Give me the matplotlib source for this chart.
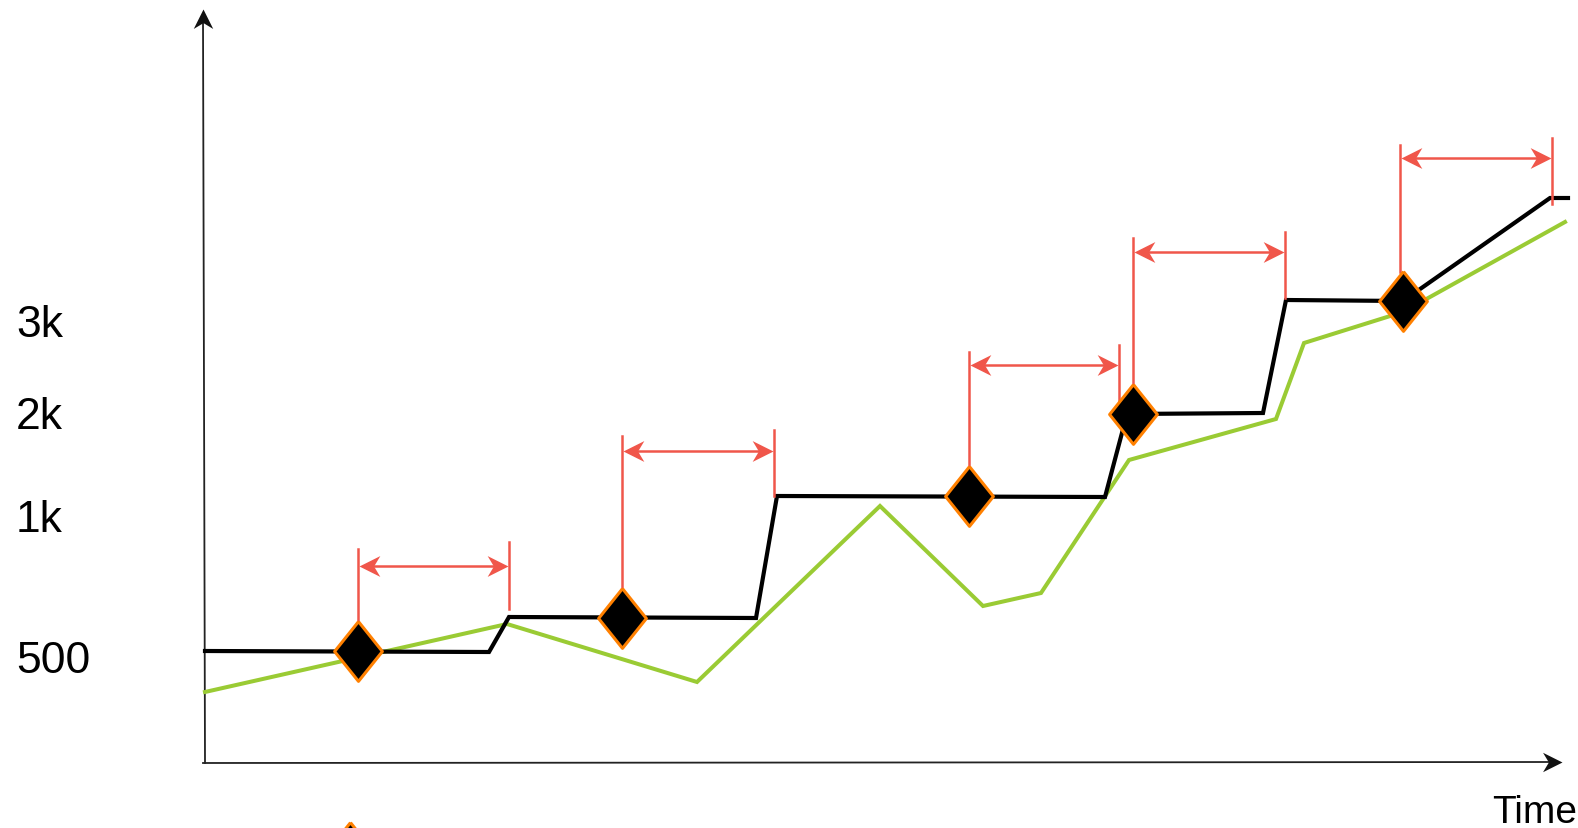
import matplotlib.pyplot as plt

plt.rcParams['font.family'] = ['Liberation Sans', 'DejaVu Sans']

# 坐标按画面像素读取（x 向右，y 向下）
black_x = [205, 489, 509, 756, 777, 1105, 1127, 1263, 1286, 1403, 1550, 1568]
black_y = [652, 653, 618, 619, 497, 498, 415, 414, 301, 302, 199, 199]

green_x = [205, 507, 697, 880, 983, 1041, 1129, 1276, 1304, 1403, 1565]
green_y = [693, 625, 683, 507, 607, 594, 461, 420, 344, 313, 223]

diamond_x = [358, 622, 969, 1133, 1403, 350]
diamond_y = [652, 619, 497, 415, 302, 853]

# 红色区间：左端 x、右端 x、箭头 y、左竖线顶/底、右竖线顶/底
span_left = [358, 622, 969, 1133, 1400]
span_right = [509, 774, 1119, 1285, 1552]
span_y = [567, 452, 366, 253, 159]
left_top = [550, 437, 353, 239, 146]
left_bottom = [623, 590, 468, 386, 273]
right_top = [543, 431, 346, 233, 139]
right_bottom = [610, 497, 402, 299, 205]

tick_labels = ['3k', '2k', '1k', '500']
tick_base = [337, 429, 532, 673]

red = '#F0564A'
green = '#9ACB34'

# 带凹口的箭头（尖端在原点）
head_r = [(0, 0), (-1, 0.5), (-0.7, 0), (-1, -0.5), (0, 0)]
head_l = [(-x, y) for x, y in head_r]
head_u = [(y, -x) for x, y in head_r]
head_u = [(x, -y) for x, y in head_u]

fig = plt.figure(figsize=(15.78, 8.29), dpi=100)
ax = fig.add_axes([0, 0, 1, 1])
ax.set_xlim(0, 1578)
ax.set_ylim(829, 0)
ax.axis('off')

# 坐标轴
ax.plot([205, 203], [764, 18], color='#222222', lw=1.3)
ax.plot([203, 1550], [764, 763], color='#222222', lw=1.3)
ax.plot([203], [10], marker=head_u, markersize=28, color='#111111', mew=0)
ax.plot([1562], [763], marker=head_r, markersize=28, color='#111111', mew=0)

for lab, yb in zip(tick_labels, tick_base):
    ax.text(16, yb, lab, fontsize=32, ha='left', va='baseline')
ax.text(1492, 823, 'Time', fontsize=28, ha='left', va='baseline')

ax.plot(green_x, green_y, color=green, lw=2.9, zorder=2, solid_joinstyle='miter')
ax.plot(black_x, black_y, color='black', lw=3, zorder=3, solid_joinstyle='miter')

for i in range(len(span_left)):
    ax.plot([span_left[i], span_left[i]], [left_top[i], left_bottom[i]],
            color=red, lw=1.8, zorder=4)
    ax.plot([span_right[i], span_right[i]], [right_top[i], right_bottom[i]],
            color=red, lw=1.8, zorder=4)
    ax.plot([span_left[i] + 8, span_right[i] - 8], [span_y[i], span_y[i]],
            color=red, lw=1.8, zorder=4)
    ax.plot([span_left[i] + 1], [span_y[i]], marker=head_l, markersize=30,
            color=red, mew=0, zorder=4)
    ax.plot([span_right[i] - 1], [span_y[i]], marker=head_r, markersize=30,
            color=red, mew=0, zorder=4)

diamond = [(0, 1), (0.8, 0), (0, -1), (-0.8, 0), (0, 1)]
ax.plot(diamond_x, diamond_y, ls='none', marker=diamond, markersize=43,
        markerfacecolor='black', markeredgecolor='#FF8000', markeredgewidth=2.2,
        zorder=5, clip_on=False)

fig.savefig('out.png', dpi=100)
